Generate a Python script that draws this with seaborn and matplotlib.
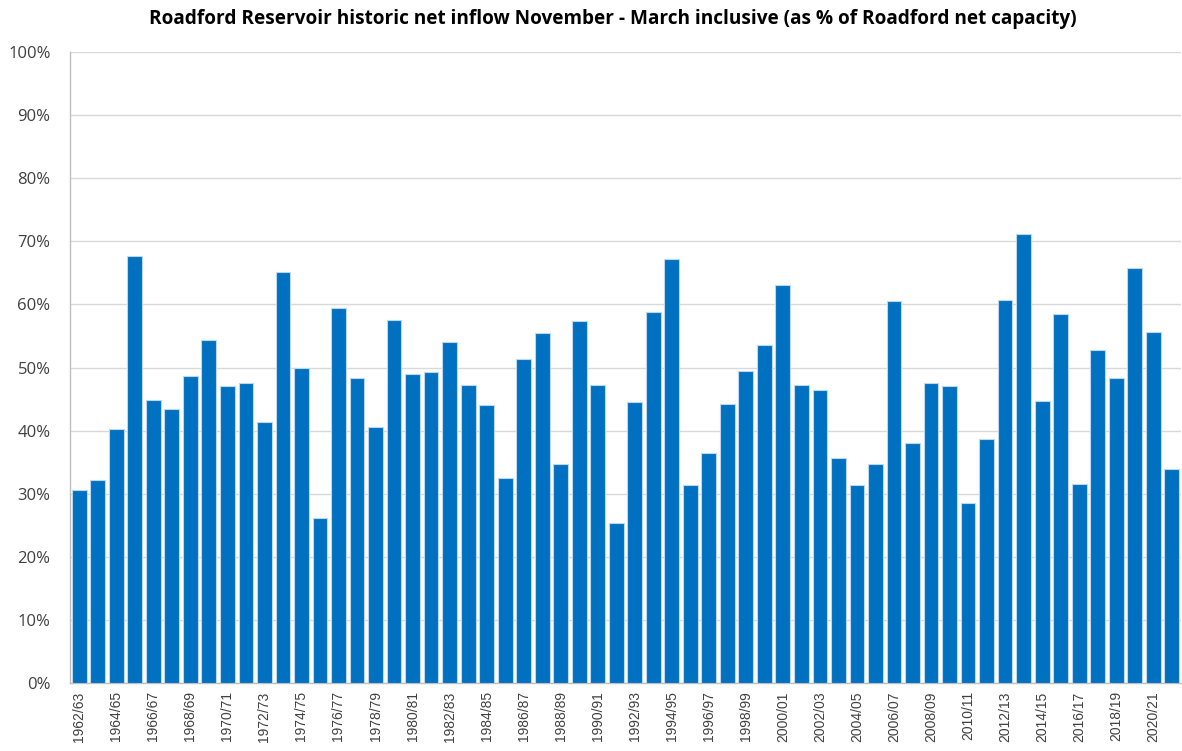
import matplotlib
matplotlib.use("Agg")
import matplotlib.pyplot as plt
import seaborn as sns
import pandas as pd
from matplotlib.ticker import FuncFormatter, MultipleLocator

seasons = [f"{y}/{(y + 1) % 100:02d}" for y in range(1962, 2022)]
inflow_pct = [
    30.6, 32.2, 40.2, 67.7, 44.9, 43.4, 48.7, 54.4, 47.1, 47.5,
    41.4, 65.1, 49.9, 26.2, 59.4, 48.3, 40.5, 57.6, 48.9, 49.3,
    54.0, 47.3, 44.0, 32.5, 51.3, 55.4, 34.7, 57.4, 47.3, 25.4,
    44.6, 58.8, 67.2, 31.4, 36.5, 44.2, 49.5, 53.5, 63.1, 47.3,
    46.5, 35.7, 31.4, 34.7, 60.5, 38.1, 47.5, 47.0, 28.6, 38.7,
    60.7, 71.2, 44.7, 58.4, 31.5, 52.7, 48.3, 65.7, 55.6, 33.9,
]
title = "Roadford Reservoir historic net inflow November - March inclusive (as % of Roadford net capacity)"

df = pd.DataFrame({"season": seasons, "inflow": inflow_pct})

sns.set_theme(style="white")
plt.rcParams["font.family"] = ["Open Sans", "DejaVu Sans"]

fig = plt.figure(figsize=(11.82, 7.51), dpi=100)
ax = fig.add_axes([70 / 1182, 1 - 683 / 751, 1111 / 1182, (683 - 52) / 751])

sns.barplot(data=df, x="season", y="inflow", order=seasons, color="#0070C0",
            saturation=1, width=0.8, edgecolor="#BDD7EE", linewidth=0.8, ax=ax,
            zorder=3)

ax.set_ylim(0, 100)
ax.set_xlim(-0.5, len(seasons) - 0.5)
ax.yaxis.set_major_locator(MultipleLocator(10))
ax.yaxis.set_major_formatter(FuncFormatter(lambda v, p: f"{v:.0f}%"))
ax.grid(axis="y", color="#D9D9D9", linewidth=1.0, zorder=0)
ax.set_axisbelow(True)

ax.set_xticks(range(0, len(seasons), 2))
ax.set_xticklabels(seasons[::2], rotation=90, fontsize=10, color="#404040",
                   family=["Liberation Sans", "DejaVu Sans"])
ax.tick_params(axis="x", length=0, pad=6)
ax.tick_params(axis="y", length=0, pad=14, labelsize=12, labelcolor="#404040")

ax.set_xlabel("")
ax.set_ylabel("")
for side in ["top", "right"]:
    ax.spines[side].set_visible(False)
ax.spines["left"].set_color("#BFBFBF")
ax.spines["left"].set_linewidth(1)
ax.spines["bottom"].set_color("#BFBFBF")
ax.spines["bottom"].set_linewidth(1)

fig.text(613 / 1182, 1 - 19 / 751, title, ha="center", va="center",
         fontsize=13.7, fontweight="bold", color="#000000")

fig.savefig("out.png", dpi=100, facecolor="white")
